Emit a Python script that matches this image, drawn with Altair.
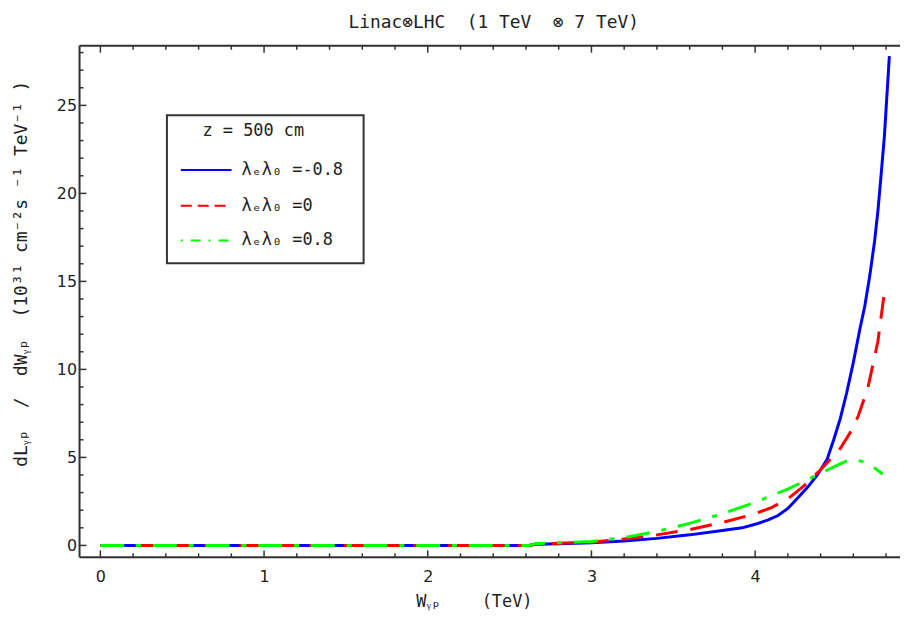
import altair as alt
import pandas as pd

NB = "\u00a0"
# ---------------- text ----------------
TITLE = "Linac⊗LHC" + NB * 2 + "(1 TeV" + NB * 2 + "⊗ 7 TeV)"
X_TITLE = "Wᵧₚ" + NB * 4 + "(TeV)"
Y_TITLE = ("dLᵧₚ" + NB * 2 + "/" + NB * 2 + "dWᵧₚ" + NB * 2 + "(10³¹" + NB
           + "cm⁻²s" + NB + "⁻¹" + NB + "TeV⁻¹" + NB + ")")
LEGEND_TITLE = "z" + NB + "=" + NB + "500" + NB + "cm"
SERIES = ["λₑλ₀ =-0.8", "λₑλ₀ =0", "λₑλ₀ =0.8"]
COLORS = ["#0000ff", "#ff0000", "#00ff00"]

# ---------------- data ----------------
blue_w = [0, 0.5, 1.0, 1.5, 2.0, 2.5, 2.62, 2.66, 2.8, 3.0, 3.2, 3.4, 3.6, 3.8, 3.92,
          4.0, 4.08, 4.14, 4.2, 4.26, 4.32, 4.38, 4.44, 4.48, 4.52, 4.56, 4.60, 4.64,
          4.67, 4.70, 4.73, 4.75, 4.77, 4.79, 4.80, 4.81, 4.82]
blue_l = [0, 0, 0, 0, 0, 0, 0, 0.06, 0.1, 0.15, 0.25, 0.4, 0.6, 0.85, 1.0,
          1.2, 1.45, 1.7, 2.1, 2.7, 3.3, 4.0, 4.9, 6.0, 7.2, 8.7, 10.4, 12.3,
          13.6, 15.3, 17.3, 19.0, 21.1, 23.3, 24.8, 26.3, 27.8]

red_w = [0, 0.5, 1.0, 1.5, 2.0, 2.5, 2.62, 2.66, 2.8, 3.0, 3.2, 3.4, 3.6, 3.8, 4.0,
         4.1, 4.2, 4.3, 4.4, 4.46, 4.52, 4.58, 4.63, 4.69, 4.75, 4.79]
red_l = [0, 0, 0, 0, 0, 0, 0, 0.08, 0.12, 0.18, 0.36, 0.6, 0.9, 1.3, 1.8,
         2.15, 2.65, 3.4, 4.3, 4.9, 5.5, 6.4, 7.35, 9.0, 11.6, 14.4]

green_w = [0, 0.5, 1.0, 1.5, 2.0, 2.5, 2.62, 2.66, 2.8, 3.0, 3.2, 3.4, 3.6, 3.8, 4.0,
           4.2, 4.4, 4.5, 4.56, 4.62, 4.68, 4.73, 4.78]
green_l = [0, 0, 0, 0, 0, 0, 0, 0.1, 0.15, 0.22, 0.45, 0.8, 1.25, 1.8, 2.45,
           3.2, 4.1, 4.55, 4.8, 4.85, 4.7, 4.4, 4.05]

X_TICKS = [0, 1, 2, 3, 4]
X_MINOR = [0.2, 0.4, 0.6, 0.8, 1.2, 1.4, 1.6, 1.8, 2.2, 2.4, 2.6, 2.8,
           3.2, 3.4, 3.6, 3.8, 4.2, 4.4, 4.6, 4.8]
Y_TICKS = [0, 5, 10, 15, 20, 25]
Y_MINOR = [1, 2, 3, 4, 6, 7, 8, 9, 11, 12, 13, 14, 16, 17, 18, 19,
           21, 22, 23, 24, 26, 27, 28]

# ---------------- layout ----------------
W, H = 826, 515
XDOM = [-0.1274, 4.885]
YDOM = [-0.677, 28.386]
FONT = "DejaVu Sans"
MONO = "DejaVu Sans Mono"
FRAME = "#333333"
TXT = "#222222"

xs = alt.Scale(domain=XDOM, nice=False, zero=False)
ys = alt.Scale(domain=YDOM, nice=False, zero=False)

x_axis = alt.Axis(values=X_TICKS, format="d", ticks=False, domain=False, grid=False,
                  labelFont=FONT, labelFontSize=16, labelColor=TXT,
                  labelPadding=11, title=X_TITLE, titleFont=MONO, titleFontSize=17,
                  titleFontWeight="normal", titleColor=TXT,
                  titleX=397, titleY=49, titleBaseline="alphabetic", titleAlign="center")
y_axis = alt.Axis(values=Y_TICKS, format="d", ticks=False, domain=False, grid=False,
                  labelFont=FONT, labelFontSize=16, labelColor=TXT,
                  labelPadding=3, title=Y_TITLE, titleFont=MONO, titleFontSize=18,
                  titleFontWeight="normal", titleColor=TXT,
                  titleAngle=270, titleX=-58, titleY=229,
                  titleBaseline="middle", titleAlign="center")


def X(field):
    return alt.X(field, type="quantitative", scale=xs, axis=x_axis)


def Y(field):
    return alt.Y(field, type="quantitative", scale=ys, axis=y_axis)


def curve(ws, ls, color, dash):
    df = pd.DataFrame({"w": ws, "l": ls})
    kw = dict(color=color, strokeWidth=3, strokeCap="butt", strokeJoin="miter")
    if dash:
        kw["strokeDash"] = dash
    return alt.Chart(df).mark_line(**kw).encode(x=X("w"), y=Y("l"))


one = pd.DataFrame({"a": [0]})

frame = [
    alt.Chart(one).mark_rule(color=FRAME, strokeWidth=2).encode(
        x=alt.value(0), y=alt.value(0), y2=alt.value(H)),
    alt.Chart(one).mark_rule(color=FRAME, strokeWidth=2).encode(
        x=alt.value(0), x2=alt.value(W), y=alt.value(0)),
    alt.Chart(one).mark_rule(color=FRAME, strokeWidth=2).encode(
        x=alt.value(0), x2=alt.value(W), y=alt.value(H)),
]


def xticks(vals, length):
    df = pd.DataFrame({"v": vals})
    bot = alt.Chart(df).mark_rule(color=FRAME, strokeWidth=1.5).encode(
        x=X("v"), y=alt.value(H), y2=alt.value(H - length))
    top = alt.Chart(df).mark_rule(color=FRAME, strokeWidth=1.5).encode(
        x=X("v"), y=alt.value(0), y2=alt.value(length))
    return [bot, top]


def yticks(vals, length):
    df = pd.DataFrame({"v": vals})
    left = alt.Chart(df).mark_rule(color=FRAME, strokeWidth=1.5).encode(
        y=Y("v"), x=alt.value(0), x2=alt.value(length))
    return [left]


ticks = xticks(X_TICKS, 7) + xticks(X_MINOR, 4) + yticks(Y_TICKS, 7) + yticks(Y_MINOR, 4)

curves = [
    curve(blue_w, blue_l, COLORS[0], None),
    curve(red_w, red_l, COLORS[1], [22, 13]),
    curve(green_w, green_l, COLORS[2], [24, 12, 5, 12]),
]

# title
title = alt.Chart(pd.DataFrame({"t": [TITLE]})).mark_text(
    font=MONO, fontSize=18, color=TXT, align="center", baseline="alphabetic"
).encode(x=alt.value(417), y=alt.value(-18), text="t:N")

# legend (box at page 168..366 x 114..263; plot origin at page 80,44)
LX0, LX1, LY0, LY1 = 88, 286, 70, 219
legend_box = alt.Chart(one).mark_rect(fill="white", stroke=FRAME, strokeWidth=2).encode(
    x=alt.value(LX0), x2=alt.value(LX1), y=alt.value(LY0), y2=alt.value(LY1))
legend_title = alt.Chart(pd.DataFrame({"t": [LEGEND_TITLE]})).mark_text(
    font=MONO, fontSize=17, color=TXT, align="center", baseline="middle"
).encode(x=alt.value(175), y=alt.value(86), text="t:N")

ROWS_Y = [125, 161, 196]
DASHES = [None, [11, 6], [2, 8, 10, 8]]
legend_layers = [legend_box, legend_title]
for i in range(3):
    kw = dict(color=COLORS[i], strokeWidth=2, strokeCap="butt")
    if DASHES[i]:
        kw["strokeDash"] = DASHES[i]
    legend_layers.append(alt.Chart(one).mark_rule(**kw).encode(
        x=alt.value(102), x2=alt.value(153), y=alt.value(ROWS_Y[i])))
    legend_layers.append(alt.Chart(pd.DataFrame({"t": [SERIES[i]]})).mark_text(
        font=MONO, fontSize=17, color=TXT, align="left", baseline="middle"
    ).encode(x=alt.value(163), y=alt.value(ROWS_Y[i]), text="t:N"))

chart = alt.layer(*curves, *ticks, *frame, *legend_layers, title).properties(
    width=W, height=H,
    autosize=alt.AutoSizeParams(type="none"),
    padding={"left": 72, "top": 36, "right": 0, "bottom": 52},
).configure_view(stroke=None).configure(background="white")

chart.save("out.html", embed_options={"renderer": "svg", "actions": False})
